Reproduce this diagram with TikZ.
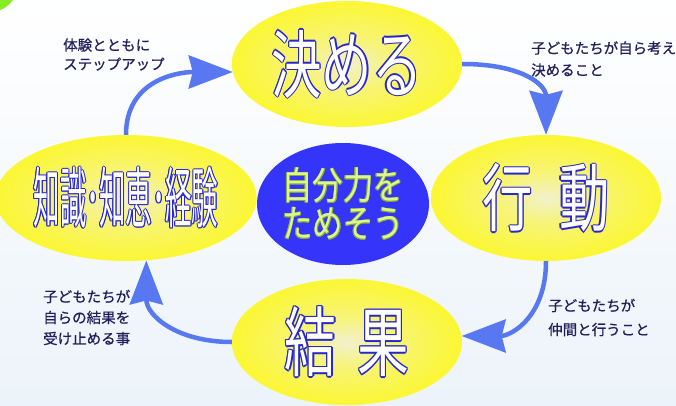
\documentclass[tikz,border=0pt]{standalone}
\usepackage{fontspec}
\usepackage{tikz}
\usetikzlibrary{arrows.meta,shapes.geometric}
\setmainfont{Noto Sans CJK JP}
\newfontfamily\jpbig[FakeStretch=0.68]{Noto Sans CJK JP}
\newfontfamily\jpthin[FakeStretch=0.4]{Noto Sans CJK JP}
\newfontfamily\jpcore[FakeStretch=0.8]{Noto Sans CJK JP}
\newfontfamily\jpnote[FakeBold=0.7]{Noto Sans CJK JP}
\definecolor{cyclink}{RGB}{88,120,242}
\definecolor{eggyolk}{RGB}{252,248,28}
\definecolor{eggmid}{RGB}{247,244,120}
\definecolor{eggwhite}{RGB}{242,240,205}
\definecolor{corefill}{RGB}{52,52,250}
\definecolor{coretext}{RGB}{222,246,140}
\definecolor{corerim}{RGB}{130,170,60}
\definecolor{rimblue}{RGB}{40,40,200}
\definecolor{notenavy}{RGB}{32,30,92}
\definecolor{skytint}{RGB}{236,243,250}
\definecolor{leafgreen}{RGB}{136,236,36}
\pgfdeclareradialshading{eggglow}{\pgfpoint{0bp}{0bp}}{color(0bp)=(eggwhite); color(10bp)=(eggmid); color(30bp)=(eggyolk); color(50bp)=(eggyolk)}
\newlength\rimw
\newcommand\rim[3]{\leavevmode\setlength\rimw{#1}\foreach \dx/\dy in {1/0,.7/.7,0/1,-.7/.7,-1/0,-.7/-.7,0/-1,.7/-.7}{\rlap{\hspace*{\dx\rimw}\raisebox{\dy\rimw}{\color{#2}#3}}}#3}
\tikzstyle{cyc} = [-{Stealth[length=44pt,width=33pt,inset=4pt]}, line width=4.5pt, color=cyclink]
\tikzstyle{stage} = [ellipse, shading=eggglow, minimum width=230pt, minimum height=126pt, inner sep=0pt, text=white]
\tikzstyle{note} = [anchor=west, align=left, inner sep=0pt, text=notenavy]

\begin{document}
\begin{tikzpicture}[x=1pt,y=1pt]
			\useasboundingbox (0,0) rectangle (676,405);
			\shade[top color=white, bottom color=skytint] (0,0) rectangle (676,405);
			\fill[leafgreen] (-10,421) circle (28);
			\node[stage, font=\jpbig\fontsize{74}{74}\selectfont] (dec) at (347,341) {\rim{1.2pt}{rimblue}{決める}};
			\node[stage, font=\jpbig\fontsize{74}{74}\selectfont] (act) at (546,207) {\rim{1.2pt}{rimblue}{行}\hspace{26pt}\rim{1.2pt}{rimblue}{動}};
			\node[stage, font=\jpbig\fontsize{76}{76}\selectfont] (res) at (347,63) {\rim{1.2pt}{rimblue}{結}\hspace{21pt}\rim{1.2pt}{rimblue}{果}};
			\node[stage, minimum width=232pt, font=\jpthin\fontsize{66}{66}\selectfont] (kno) at (126,207) {\rim{1pt}{rimblue}{知識･知恵･経験}};
			\node[ellipse, fill=corefill, minimum width=166pt, minimum height=122pt, inner sep=0pt, text=coretext, align=center, font=\jpcore\fontsize{38}{38}\selectfont] (core) at (343,201) {\rim{0.6pt}{corerim}{自分力を}\\\rim{0.6pt}{corerim}{ためそう}};
			\draw[cyc] (kno.north) .. controls +(0,55) and +(-55,0) .. (dec.184);
			\draw[cyc] (dec.east) .. controls +(60,0) and +(0,50) .. (act.north);
			\draw[cyc] (act.south) .. controls +(0,-55) and +(50,0) .. (res.3);
			\draw[cyc] (res.west) .. controls +(-55,0) and +(0,-55) .. (kno.-72);
			\node[note, font=\jpnote\fontsize{14.5}{19}\selectfont] (lblstep) at (63,350.5) {体験とともに\\ステップアップ};
			\node[note, font=\jpnote\fontsize{14.5}{22}\selectfont] (lbldec) at (531,346) {子どもたちが自ら考え\\決めること};
			\node[note, font=\jpnote\fontsize{14.5}{21}\selectfont] (lblres) at (43,87.5) {子どもたちが\\自らの結果を\\受け止める事};
			\node[note, font=\jpnote\fontsize{14.5}{24}\selectfont] (lblact) at (548,87.5) {子どもたちが\\仲間と行うこと};
		\end{tikzpicture}
\end{document}
